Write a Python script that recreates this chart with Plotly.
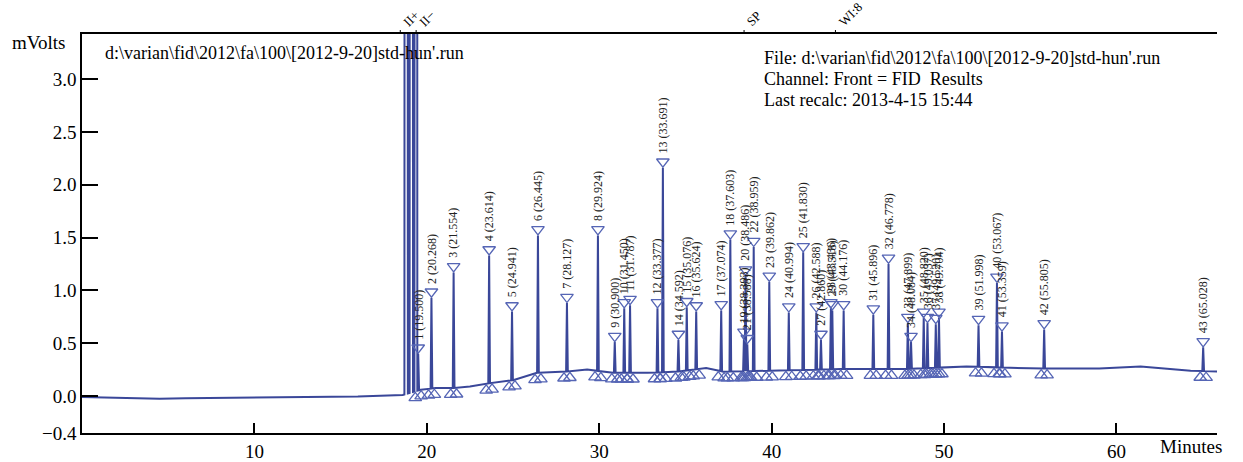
import numpy as np
import plotly.graph_objects as go

# ---------------- data ----------------
peak_no = list(range(1, 44))
peak_rt = [19.500, 20.268, 21.554, 23.614, 24.941, 26.445, 28.127, 29.924, 30.900, 31.450,
           31.787, 33.377, 33.691, 34.592, 35.076, 35.624, 37.074, 37.603, 38.393, 38.486,
           38.588, 38.959, 39.862, 40.994, 41.830, 42.588, 42.860, 43.436, 43.518, 44.176,
           45.896, 46.778, 47.899, 48.084, 48.820, 49.037, 49.520, 49.704, 51.998, 53.067,
           53.359, 55.805, 65.028]
peak_height = [0.40, 0.93, 1.17, 1.33, 0.80, 1.52, 0.88, 1.52, 0.51, 0.83,
               0.86, 0.83, 2.16, 0.53, 0.84, 0.80, 0.81, 1.48, 0.55, 1.14,
               0.49, 1.41, 1.08, 0.79, 1.36, 0.79, 0.53, 0.83, 0.81, 0.81,
               0.77, 1.25, 0.69, 0.51, 0.74, 0.69, 0.68, 0.74, 0.67, 1.07,
               0.61, 0.63, 0.46]

solvent_rt = [18.80, 19.10, 19.38]
solvent_height = [60.0, 60.0, 60.0]

baseline_t = [0.0, 1.5, 3.0, 4.5, 6.0, 8.0, 10.0, 12.0, 14.0, 16.0, 18.6,
              19.65, 20.5, 21.5, 22.5, 23.6, 25.0, 26.4, 28.0, 29.3, 30.8,
              32.8, 34.5, 36.2, 37.2, 40.1, 44.0, 47.8, 51.3, 55.2, 59.0,
              61.4, 64.3, 66.0]
baseline_v = [-0.010, -0.015, -0.020, -0.025, -0.020, -0.018, -0.015, -0.012, -0.008, -0.004, 0.010,
              0.060, 0.075, 0.075, 0.090, 0.120, 0.150, 0.220, 0.230, 0.250, 0.220,
              0.220, 0.230, 0.265, 0.230, 0.240, 0.255, 0.255, 0.280, 0.260, 0.260,
              0.280, 0.240, 0.230]

event_label = ["II+", "II\u2212", "SP", "WI:8"]
event_t = [18.46, 19.38, 38.40, 43.70]

x_tick_vals = [10, 20, 30, 40, 50, 60]
y_tick_vals = [-0.35, 0.0, 0.5, 1.0, 1.5, 2.0, 2.5, 3.0]
y_tick_text = ["\u22120.4", "0.0", "0.5", "1.0", "1.5", "2.0", "2.5", "3.0"]

file_name = "d:\\varian\\fid\\2012\\fa\\100\\[2012-9-20]std-hun'.run"
info_lines = ["File: " + file_name,
              "Channel: Front = FID  Results",
              "Last recalc: 2013-4-15 15:44"]

# ---------------- layout constants ----------------
W, H = 1243, 462
ML, MR, MT, MB = 82, 26, 34, 29
X0, X1 = 0.0, 65.83
Y0, Y1 = -0.35, 3.426
PW = W - ML - MR
PH = H - MT - MB
PY = PH / (Y1 - Y0)          # pixels per mV
FONT = "Liberation Serif"
LINE_C = "#3a4799"
MARK_C = "#5565b5"
HW_PEAK = 0.05
HW_SOLV = 0.10
FOOT = 0.17
R = 5.5                       # marker radius (px)

# ---------------- build the signal ----------------
all_rt = solvent_rt + peak_rt
all_h = solvent_height + peak_height
all_hw = [HW_SOLV] * len(solvent_rt) + [HW_PEAK] * len(peak_rt)

pts = []
for t, v in zip(baseline_t, baseline_v):
    if not any(abs(t - rt) <= hw for rt, hw in zip(all_rt, all_hw)):
        pts.append((t, v))
for rt, h, hw in zip(all_rt, all_h, all_hw):
    b0 = float(np.interp(rt - hw, baseline_t, baseline_v))
    b1 = float(np.interp(rt + hw, baseline_t, baseline_v))
    pts += [(rt - hw, b0), (rt, h), (rt + hw, b1)]
pts.sort(key=lambda p: p[0])
sig_t = [p[0] for p in pts]
sig_v = [p[1] for p in pts]

fig = go.Figure()
fig.add_trace(go.Scatter(x=sig_t, y=sig_v, mode="lines",
                         line=dict(color=LINE_C, width=2), hoverinfo="skip",
                         showlegend=False))

# peak start / end markers (up triangles) and apex markers (down triangles)
foot_t = [rt - FOOT for rt in peak_rt] + [rt + FOOT for rt in peak_rt]
foot_v = [float(np.interp(t, baseline_t, baseline_v)) - (R + 1) / PY for t in foot_t]
fig.add_trace(go.Scatter(x=foot_t, y=foot_v, mode="markers",
                         marker=dict(symbol="triangle-up-open", size=2 * R,
                                     color=MARK_C, line=dict(width=1.3, color=MARK_C)),
                         showlegend=False, hoverinfo="skip"))
apex_v = [h + (R + 0.5) / PY for h in peak_height]
fig.add_trace(go.Scatter(x=peak_rt, y=apex_v, mode="markers",
                         marker=dict(symbol="triangle-down-open", size=2 * R,
                                     color=MARK_C, line=dict(width=1.3, color=MARK_C)),
                         showlegend=False, hoverinfo="skip"))

annotations = []
for n, rt, h in zip(peak_no, peak_rt, peak_height):
    annotations.append(dict(x=rt, y=h, xref="x", yref="y",
                            text=f"{n} ({rt:.3f})", textangle=-90,
                            showarrow=False, xanchor="center", yanchor="bottom",
                            yshift=1.5 * R + 4,
                            font=dict(family=FONT, size=12, color="#222222")))

shapes = []
for lab, t in zip(event_label, event_t):
    shapes.append(dict(type="line", xref="x", yref="paper", x0=t, x1=t,
                       y0=1, y1=1 + 4 / PH, line=dict(color="black", width=1)))
    annotations.append(dict(x=t, y=1, xref="x", yref="paper", text=lab,
                            textangle=-45, showarrow=False, xanchor="left",
                            yanchor="bottom", xshift=-3, yshift=2,
                            font=dict(family=FONT, size=13, color="black")))


def paper_xy(px, py_):
    """convert figure pixel position to plot-area paper fraction"""
    return (px - ML) / PW, 1 - (py_ - MT) / PH


def text_note(px, py_, text, size, anchor="left"):
    x, y = paper_xy(px, py_)
    return dict(x=x, y=y, xref="paper", yref="paper", text=text, showarrow=False,
                xanchor=anchor, yanchor="middle",
                font=dict(family=FONT, size=size, color="black"))


annotations.append(text_note(10, 42, "mVolts", 19))
annotations.append(text_note(103, 53, file_name, 18))
for i, line in enumerate(info_lines):
    annotations.append(text_note(762, 58 + 21 * i, line, 18))
annotations.append(text_note(1224, 446, "Minutes", 19, anchor="right"))

fig.update_layout(
    width=W, height=H, autosize=False,
    margin=dict(l=ML, r=MR, t=MT, b=MB, pad=0),
    paper_bgcolor="white", plot_bgcolor="white",
    annotations=annotations, shapes=shapes,
    xaxis=dict(range=[X0, X1], tickvals=x_tick_vals + [X1],
               ticktext=[str(v) for v in x_tick_vals] + [""],
               ticks="inside", ticklen=10, tickwidth=1.5, tickcolor="black",
               showline=True, linecolor="black", linewidth=1.5, mirror=True,
               showgrid=False, zeroline=False, automargin=False,
               tickfont=dict(family=FONT, size=19, color="black")),
    yaxis=dict(range=[Y0, Y1], tickvals=y_tick_vals, ticktext=y_tick_text,
               ticks="inside", ticklen=16, tickwidth=1.5, tickcolor="black",
               showline=True, linecolor="black", linewidth=1.5, mirror=False,
               showgrid=False, zeroline=False, automargin=False,
               tickfont=dict(family=FONT, size=19, color="black")),
)

fig.write_html("out.html", config={"displayModeBar": False},
               post_script="document.body.style.margin='0';")
